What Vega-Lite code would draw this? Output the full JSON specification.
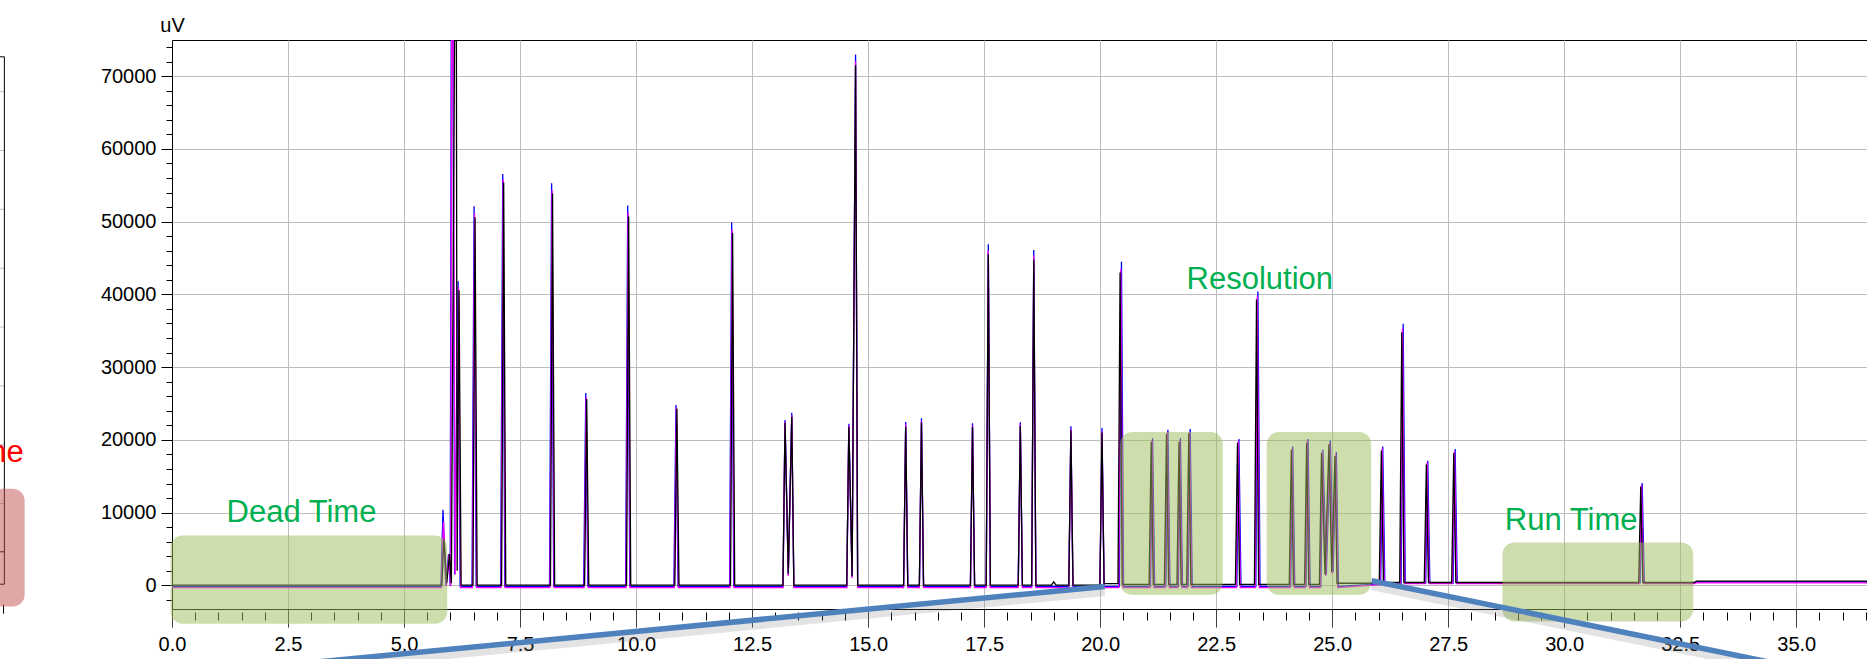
{
  "$schema": "https://vega.github.io/schema/vega-lite/v6.json",
  "autosize": {"type": "none"},
  "padding": {"left": 172, "top": 40, "right": 0, "bottom": 50},
  "width": 1695,
  "height": 569,
  "background": "#ffffff",
  "config": {
    "view": {"stroke": "#000000", "strokeWidth": 1},
    "axis": {
      "domainColor": "#000000", "tickColor": "#000000", "labelColor": "#000000",
      "gridColor": "#bdbdbd", "gridWidth": 1,
      "labelFont": "Liberation Sans", "labelFontSize": 20,
      "titleFont": "Liberation Sans", "titleFontSize": 20, "titleFontWeight": "normal", "titleColor": "#000000",
      "labelOverlap": false, "labelFlush": false, "labelBound": false
    }
  },
  "datasets": {
    "blue": [
      {"t":0,"v":-150},{"t":5.795,"v":-150},{"t":5.84,"v":10410},{"t":5.9,"v":0},{"t":5.96,"v":4300},{"t":5.995,"v":0},{"t":6.03,"v":120000},{"t":6.09,"v":1500},{"t":6.165,"v":41800},{"t":6.21,"v":-150},
      {"t":6.465,"v":-150},{"t":6.51,"v":52110},{"t":6.555,"v":-150},
      {"t":7.082,"v":-150},{"t":7.127,"v":56560},{"t":7.172,"v":-150},
      {"t":8.135,"v":-150},{"t":8.18,"v":55260},{"t":8.225,"v":-150},
      {"t":8.871,"v":-150},{"t":8.916,"v":26430},{"t":8.961,"v":-150},
      {"t":9.775,"v":-150},{"t":9.82,"v":52220},{"t":9.865,"v":-150},
      {"t":10.815,"v":-150},{"t":10.86,"v":24800},{"t":10.905,"v":-150},
      {"t":12.015,"v":-150},{"t":12.06,"v":49890},{"t":12.105,"v":-150},
      {"t":13.165,"v":-150},{"t":13.21,"v":22740},{"t":13.28,"v":1500},{"t":13.355,"v":23720},{"t":13.4,"v":-150},
      {"t":14.54,"v":-150},{"t":14.585,"v":22200},{"t":14.655,"v":1200},{"t":14.73,"v":72960},{"t":14.775,"v":-150},
      {"t":15.765,"v":-150},{"t":15.81,"v":22470},{"t":15.855,"v":-150},
      {"t":16.105,"v":-150},{"t":16.15,"v":22990},{"t":16.195,"v":-150},
      {"t":17.205,"v":-150},{"t":17.25,"v":22300},{"t":17.295,"v":-150},
      {"t":17.545,"v":-150},{"t":17.59,"v":46900},{"t":17.635,"v":-150},
      {"t":18.235,"v":-150},{"t":18.28,"v":22440},{"t":18.325,"v":-150},
      {"t":18.525,"v":-150},{"t":18.57,"v":46100},{"t":18.615,"v":-150},
      {"t":19.325,"v":-150},{"t":19.37,"v":21890},{"t":19.415,"v":-150},
      {"t":19.995,"v":-150},{"t":20.04,"v":21620},{"t":20.085,"v":-150},
      {"t":20.415,"v":-150},{"t":20.46,"v":44470},{"t":20.505,"v":-150},
      {"t":21.085,"v":-150},{"t":21.13,"v":20240},{"t":21.175,"v":-150},
      {"t":21.415,"v":-150},{"t":21.46,"v":21390},{"t":21.505,"v":-150},
      {"t":21.685,"v":-150},{"t":21.73,"v":20240},{"t":21.775,"v":-150},
      {"t":21.895,"v":-150},{"t":21.94,"v":21480},{"t":21.985,"v":-150},
      {"t":22.945,"v":-150},{"t":22.99,"v":20110},{"t":23.035,"v":-150},
      {"t":23.355,"v":-150},{"t":23.4,"v":40390},{"t":23.445,"v":-150},
      {"t":24.105,"v":-150},{"t":24.15,"v":19100},{"t":24.195,"v":-150},
      {"t":24.435,"v":-150},{"t":24.48,"v":20110},{"t":24.525,"v":-150},
      {"t":24.755,"v":-150},{"t":24.8,"v":18640},{"t":24.875,"v":1500},{"t":24.96,"v":19920},{"t":25.02,"v":1800},{"t":25.09,"v":18320},{"t":25.135,"v":-150},
      {"t":26.045,"v":200},{"t":26.09,"v":19100},{"t":26.135,"v":250},
      {"t":26.485,"v":250},{"t":26.53,"v":35970},{"t":26.575,"v":300},
      {"t":27.015,"v":300},{"t":27.06,"v":17130},{"t":27.105,"v":300},
      {"t":27.605,"v":300},{"t":27.65,"v":18730},{"t":27.695,"v":300},
      {"t":31.635,"v":350},{"t":31.68,"v":14060},{"t":31.725,"v":350},
      {"t":32.8,"v":350},{"t":32.85,"v":500},{"t":36.6,"v":500}
    ],
    "magenta": [
      {"t":0,"v":-300},{"t":5.805,"v":-300},{"t":5.85,"v":8790},{"t":5.91,"v":-100},{"t":5.97,"v":4300},{"t":6.005,"v":-100},{"t":6.04,"v":120000},{"t":6.1,"v":1500},{"t":6.175,"v":41000},{"t":6.22,"v":-300},
      {"t":6.475,"v":-300},{"t":6.52,"v":51130},{"t":6.565,"v":-300},
      {"t":7.092,"v":-300},{"t":7.137,"v":55800},{"t":7.182,"v":-300},
      {"t":8.145,"v":-300},{"t":8.19,"v":54300},{"t":8.235,"v":-300},
      {"t":8.881,"v":-300},{"t":8.926,"v":25900},{"t":8.971,"v":-300},
      {"t":9.785,"v":-300},{"t":9.83,"v":51300},{"t":9.875,"v":-300},
      {"t":10.825,"v":-300},{"t":10.87,"v":24400},{"t":10.915,"v":-300},
      {"t":12.025,"v":-300},{"t":12.07,"v":48900},{"t":12.115,"v":-300},
      {"t":13.165,"v":-300},{"t":13.21,"v":22500},{"t":13.28,"v":1300},{"t":13.355,"v":23400},{"t":13.4,"v":-300},
      {"t":14.54,"v":-300},{"t":14.585,"v":22000},{"t":14.655,"v":1000},{"t":14.73,"v":72000},{"t":14.775,"v":-300},
      {"t":15.765,"v":-300},{"t":15.81,"v":22100},{"t":15.855,"v":-300},
      {"t":16.105,"v":-300},{"t":16.15,"v":22600},{"t":16.195,"v":-300},
      {"t":17.205,"v":-300},{"t":17.25,"v":22000},{"t":17.295,"v":-300},
      {"t":17.545,"v":-300},{"t":17.59,"v":46000},{"t":17.635,"v":-300},
      {"t":18.235,"v":-300},{"t":18.28,"v":22100},{"t":18.325,"v":-300},
      {"t":18.525,"v":-300},{"t":18.57,"v":45300},{"t":18.615,"v":-300},
      {"t":19.325,"v":-300},{"t":19.37,"v":21500},{"t":19.415,"v":-300},
      {"t":19.995,"v":-300},{"t":20.04,"v":21200},{"t":20.085,"v":-300},
      {"t":20.4,"v":-300},{"t":20.445,"v":43500},{"t":20.49,"v":-300},
      {"t":21.07,"v":-300},{"t":21.115,"v":19900},{"t":21.16,"v":-300},
      {"t":21.4,"v":-300},{"t":21.445,"v":21000},{"t":21.49,"v":-300},
      {"t":21.67,"v":-300},{"t":21.715,"v":19900},{"t":21.76,"v":-300},
      {"t":21.88,"v":-300},{"t":21.925,"v":21100},{"t":21.97,"v":-300},
      {"t":22.93,"v":-300},{"t":22.975,"v":19800},{"t":23.02,"v":-300},
      {"t":23.34,"v":-300},{"t":23.385,"v":39700},{"t":23.43,"v":-300},
      {"t":24.09,"v":-300},{"t":24.135,"v":18800},{"t":24.18,"v":-300},
      {"t":24.42,"v":-300},{"t":24.465,"v":19800},{"t":24.51,"v":-300},
      {"t":24.74,"v":-300},{"t":24.785,"v":18400},{"t":24.86,"v":1300},{"t":24.945,"v":19600},{"t":25.005,"v":1600},{"t":25.075,"v":18000},{"t":25.12,"v":-300},
      {"t":26.03,"v":100},{"t":26.075,"v":18800},{"t":26.12,"v":200},
      {"t":26.47,"v":200},{"t":26.515,"v":35300},{"t":26.56,"v":250},
      {"t":27.0,"v":250},{"t":27.045,"v":16900},{"t":27.09,"v":250},
      {"t":27.59,"v":250},{"t":27.635,"v":18400},{"t":27.68,"v":250},
      {"t":31.62,"v":250},{"t":31.665,"v":13800},{"t":31.71,"v":250},
      {"t":32.8,"v":250},{"t":32.85,"v":350},{"t":36.6,"v":350}
    ],
    "black": [
      {"t":0,"v":50},{"t":5.815,"v":50},{"t":5.86,"v":6340},{"t":5.92,"v":300},{"t":5.98,"v":4280},{"t":6.02,"v":300},{"t":6.12,"v":110000},{"t":6.145,"v":2000},{"t":6.185,"v":40550},{"t":6.23,"v":50},
      {"t":6.485,"v":50},{"t":6.53,"v":50590},{"t":6.575,"v":50},
      {"t":7.102,"v":50},{"t":7.147,"v":55370},{"t":7.192,"v":50},
      {"t":8.155,"v":50},{"t":8.2,"v":53850},{"t":8.245,"v":50},
      {"t":8.891,"v":50},{"t":8.936,"v":25620},{"t":8.981,"v":50},
      {"t":9.795,"v":50},{"t":9.84,"v":50700},{"t":9.885,"v":50},
      {"t":10.835,"v":50},{"t":10.88,"v":24270},{"t":10.925,"v":50},
      {"t":12.035,"v":50},{"t":12.08,"v":48420},{"t":12.125,"v":50},
      {"t":13.165,"v":50},{"t":13.21,"v":22350},{"t":13.28,"v":1600},{"t":13.355,"v":23170},{"t":13.4,"v":50},
      {"t":14.54,"v":50},{"t":14.585,"v":21810},{"t":14.655,"v":1300},{"t":14.73,"v":71500},{"t":14.775,"v":50},
      {"t":15.765,"v":50},{"t":15.81,"v":21810},{"t":15.855,"v":50},
      {"t":16.105,"v":50},{"t":16.15,"v":22400},{"t":16.195,"v":50},
      {"t":17.205,"v":50},{"t":17.25,"v":21800},{"t":17.295,"v":50},
      {"t":17.545,"v":50},{"t":17.59,"v":45500},{"t":17.635,"v":50},
      {"t":18.235,"v":50},{"t":18.28,"v":21900},{"t":18.325,"v":50},
      {"t":18.525,"v":50},{"t":18.57,"v":44800},{"t":18.615,"v":50},
      {"t":18.95,"v":50},{"t":19.0,"v":500},{"t":19.05,"v":50},
      {"t":19.325,"v":50},{"t":19.37,"v":21300},{"t":19.415,"v":50},
      {"t":19.995,"v":50},{"t":20.04,"v":21000},{"t":20.085,"v":250},
      {"t":20.385,"v":250},{"t":20.43,"v":43000},{"t":20.475,"v":150},
      {"t":21.055,"v":150},{"t":21.1,"v":19700},{"t":21.145,"v":150},
      {"t":21.385,"v":150},{"t":21.43,"v":20800},{"t":21.475,"v":150},
      {"t":21.655,"v":150},{"t":21.7,"v":19700},{"t":21.745,"v":150},
      {"t":21.865,"v":150},{"t":21.91,"v":20900},{"t":21.955,"v":150},
      {"t":22.915,"v":150},{"t":22.96,"v":19600},{"t":23.005,"v":150},
      {"t":23.325,"v":150},{"t":23.37,"v":39300},{"t":23.415,"v":150},
      {"t":24.075,"v":150},{"t":24.12,"v":18600},{"t":24.165,"v":150},
      {"t":24.405,"v":150},{"t":24.45,"v":19600},{"t":24.495,"v":150},
      {"t":24.725,"v":150},{"t":24.77,"v":18200},{"t":24.845,"v":1500},{"t":24.93,"v":19400},{"t":24.99,"v":1800},{"t":25.06,"v":17800},{"t":25.105,"v":300},
      {"t":25.9,"v":300},{"t":26.015,"v":400},{"t":26.06,"v":18500},{"t":26.105,"v":400},
      {"t":26.455,"v":400},{"t":26.5,"v":34800},{"t":26.545,"v":400},
      {"t":26.985,"v":400},{"t":27.03,"v":16600},{"t":27.075,"v":400},
      {"t":27.575,"v":400},{"t":27.62,"v":18200},{"t":27.665,"v":400},
      {"t":31.605,"v":400},{"t":31.65,"v":13600},{"t":31.695,"v":400},
      {"t":32.8,"v":400},{"t":32.85,"v":600},{"t":36.6,"v":600}
    ],
    "regions": [
      {"name":"Dead Time","t":-0.03,"t2":5.93,"v":-5260,"v2":6870},
      {"name":"Resolution A","t":20.43,"t2":22.64,"v":-1280,"v2":21070},
      {"name":"Resolution B","t":23.59,"t2":25.84,"v":-1280,"v2":21070},
      {"name":"Run Time","t":28.67,"t2":32.78,"v":-4950,"v2":5900}
    ],
    "labels": [
      {"text":"Dead Time","t":2.79,"v":8650},
      {"text":"Resolution","t":23.44,"v":40750},
      {"text":"Run Time","t":30.15,"v":7650}
    ],
    "connectors": [
      {"t":20.1,"v":-140,"t2":1.675,"v2":-11415},
      {"t":25.85,"v":650,"t2":35.08,"v2":-11400}
    ],
    "prevBlack": [
      {"t":-3.612,"v":72650,"t2":-3.612,"v2":165},
      {"t":-3.8,"v":72650,"t2":-3.612,"v2":72650},
      {"t":-3.8,"v":165,"t2":-3.612,"v2":165},
      {"t":-3.8,"v":4620,"t2":-3.612,"v2":4620},
      {"t":-3.63,"v":-2650,"t2":-3.63,"v2":-3890}
    ],
    "prevGrid": [
      {"t":-3.8,"v":67860,"t2":-3.612,"v2":67860},
      {"t":-3.8,"v":59780,"t2":-3.612,"v2":59780},
      {"t":-3.8,"v":51690,"t2":-3.612,"v2":51690},
      {"t":-3.8,"v":43600,"t2":-3.612,"v2":43600},
      {"t":-3.8,"v":35510,"t2":-3.612,"v2":35510},
      {"t":-3.8,"v":27430,"t2":-3.612,"v2":27430},
      {"t":-3.8,"v":19340,"t2":-3.612,"v2":19340},
      {"t":-3.8,"v":11250,"t2":-3.612,"v2":11250}
    ],
    "prevBox": [
      {"t":-3.9,"t2":-3.175,"v":13280,"v2":-2900}
    ],
    "prevText": [
      {"text":"Time","t":-3.196,"v":16910}
    ]
  },
  "encoding": {
    "x": {
      "field": "t", "type": "quantitative",
      "scale": {"domain": [0, 36.525], "nice": false, "zero": false},
      "axis": {
        "title": null,
        "values": [0,0.5,1,1.5,2,2.5,3,3.5,4,4.5,5,5.5,6,6.5,7,7.5,8,8.5,9,9.5,10,10.5,11,11.5,12,12.5,13,13.5,14,14.5,15,15.5,16,16.5,17,17.5,18,18.5,19,19.5,20,20.5,21,21.5,22,22.5,23,23.5,24,24.5,25,25.5,26,26.5,27,27.5,28,28.5,29,29.5,30,30.5,31,31.5,32,32.5,33,33.5,34,34.5,35,35.5,36,36.5],
        "format": ".1f",
        "labelExpr": "datum.value % 2.5 === 0 ? datum.label : ''",
        "grid": true,
        "gridOpacity": {"condition": {"test": "datum.value % 2.5 === 0", "value": 1}, "value": 0},
        "tickSize": {"condition": {"test": "datum.value % 2.5 === 0", "value": 18}, "value": 11},
        "tickDash": {"condition": {"test": "datum.value % 2.5 === 0", "value": [1, 0]}, "value": [0, 3, 8, 100]},
        "labelPadding": 7
      }
    },
    "y": {
      "field": "v", "type": "quantitative",
      "scale": {"domain": [-3242, 74960], "nice": false, "zero": false},
      "axis": {
        "title": "uV",
        "titleAngle": 0, "titleX": 0, "titleY": -9, "titleAlign": "center", "titleBaseline": "alphabetic",
        "values": [-2000,0,2000,4000,6000,8000,10000,12000,14000,16000,18000,20000,22000,24000,26000,28000,30000,32000,34000,36000,38000,40000,42000,44000,46000,48000,50000,52000,54000,56000,58000,60000,62000,64000,66000,68000,70000,72000,74000],
        "format": "d",
        "labelExpr": "datum.value % 10000 === 0 ? datum.label : ''",
        "grid": true,
        "gridOpacity": {"condition": {"test": "datum.value % 10000 === 0", "value": 1}, "value": 0},
        "tickSize": {"condition": {"test": "datum.value % 10000 === 0", "value": 11}, "value": 6},
        "labelPadding": 5
      }
    }
  },
  "layer": [
    {"data": {"name": "prevGrid"}, "mark": {"type": "rule", "color": "#bdbdbd", "strokeWidth": 1, "clip": false},
     "encoding": {"x2": {"field": "t2"}, "y2": {"field": "v2"}}},
    {"data": {"name": "prevBlack"}, "mark": {"type": "rule", "color": "#000000", "strokeWidth": 1, "clip": false},
     "encoding": {"x2": {"field": "t2"}, "y2": {"field": "v2"}}},
    {"data": {"name": "prevBox"}, "mark": {"type": "rect", "color": "#c0504d", "opacity": 0.5, "cornerRadius": 12, "clip": false},
     "encoding": {"x2": {"field": "t2"}, "y2": {"field": "v2"}}},
    {"data": {"name": "prevText"}, "mark": {"type": "text", "color": "#ff0000", "font": "Liberation Sans", "fontSize": 31, "align": "right", "baseline": "alphabetic", "clip": false},
     "encoding": {"text": {"field": "text"}}},
    {"data": {"name": "blue"}, "mark": {"type": "line", "color": "#0000ff", "strokeWidth": 1.3, "clip": true}, "encoding": {}},
    {"data": {"name": "magenta"}, "mark": {"type": "line", "color": "#ff00ff", "strokeWidth": 1.3, "clip": true}, "encoding": {}},
    {"data": {"name": "black"}, "mark": {"type": "line", "color": "#000000", "strokeWidth": 1.3, "clip": true}, "encoding": {}},
    {"data": {"name": "regions"}, "mark": {"type": "rect", "color": "#9bbb59", "opacity": 0.5, "cornerRadius": 12, "clip": false},
     "encoding": {"x2": {"field": "t2"}, "y2": {"field": "v2"}}},
    {"data": {"name": "labels"}, "mark": {"type": "text", "color": "#00b050", "font": "Liberation Sans", "fontSize": 31, "align": "center", "baseline": "alphabetic", "clip": false},
     "encoding": {"text": {"field": "text"}}},
    {"data": {"name": "connectors"}, "mark": {"type": "rule", "color": "#7f7f7f", "opacity": 0.22, "strokeWidth": 9, "yOffset": 5, "y2Offset": 5, "clip": false},
     "encoding": {"x2": {"field": "t2"}, "y2": {"field": "v2"}}},
    {"data": {"name": "connectors"}, "mark": {"type": "rule", "color": "#4f81bd", "strokeWidth": 5.5, "clip": false},
     "encoding": {"x2": {"field": "t2"}, "y2": {"field": "v2"}}}
  ]
}
